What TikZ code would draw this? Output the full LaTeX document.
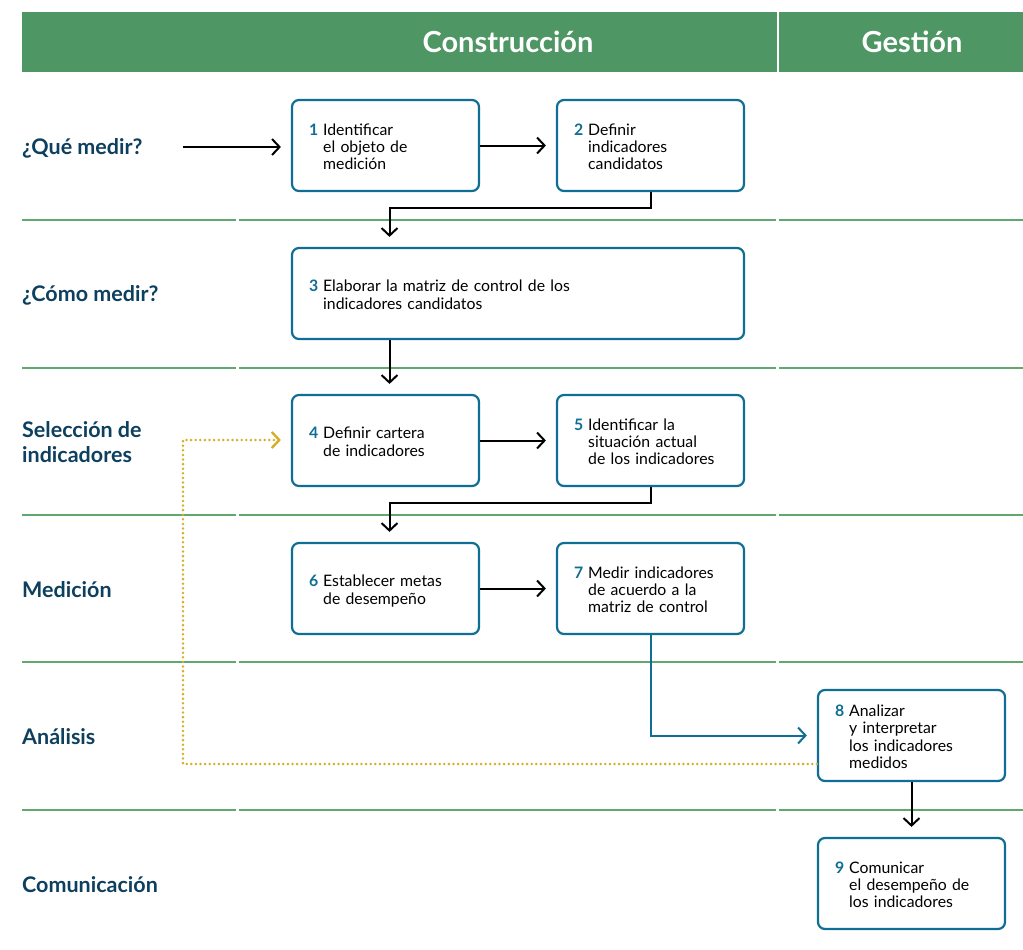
\documentclass[tikz,border=0pt]{standalone}
\usepackage{fontspec}
\setmainfont{Lato}
\usetikzlibrary{arrows.meta,calc}
\definecolor{hdrgreen}{HTML}{4E9664}
\definecolor{sepgreen}{HTML}{5FA870}
\definecolor{boxblue}{HTML}{0F6E93}
\definecolor{lblblue}{HTML}{0D3F5F}
\definecolor{dotyellow}{HTML}{D4B02A}
\newcommand{\nm}[1]{\textcolor{boxblue}{\bfseries #1}}
\tikzset{
  box/.style={draw=boxblue, line width=2.2pt, rounded corners=7pt, fill=white,
    minimum height=91pt, text width=153pt, inner xsep=17pt, inner ysep=0pt,
    align=left, font=\fontsize{15.8}{17.3}\selectfont, text=black},
  widebox/.style={box, text width=418pt},
  rowlbl/.style={anchor=west, align=left, text=lblblue, font=\fontsize{21.5}{25}\selectfont\bfseries, inner sep=0pt},
  hdr/.style={text=white, font=\fontsize{29}{32}\selectfont\bfseries},
  sep/.style={draw=sepgreen, line width=1.8pt},
  conn/.style={line width=2pt, -{Straight Barb[length=7.5pt,width=16pt,line width=2pt]}, shorten >=10pt},
  bconn/.style={conn, draw=boxblue},
  yconn/.style={draw=dotyellow, line width=2.8pt, line cap=round, dash pattern=on 0pt off 4.6pt,
     -{Straight Barb[length=7.5pt,width=16pt,line width=2.4pt]}, shorten >=10pt},
}
\newcommand{\tb}[2]{\raisebox{-3.5pt}[\height][\depth]{\begin{tabular}{@{}l@{\hspace{5pt}}l@{}}\nm{#1} & #2\end{tabular}}}
\begin{document}
\begin{tikzpicture}[x=1pt,y=-1pt]
\path[use as bounding box] (0,0) rectangle (1023,950);
% header
\fill[hdrgreen] (22,12) rectangle (777,72);
\fill[hdrgreen] (779,12) rectangle (1023,72);
\node[hdr] (hc) at (508,42) {Construcción};
\node[hdr] (hg) at (912,42) {Gestión};
% separators
\foreach \yy in {220,368,515,662,810}{
  \draw[sep] (22,\yy) -- (236,\yy);
  \draw[sep] (239,\yy) -- (776,\yy);
  \draw[sep] (779,\yy) -- (1023,\yy);
}
% row labels
\node[rowlbl] (l1) at (22,148) {¿Qué medir?};
\node[rowlbl] (l2) at (22,295) {¿Cómo medir?};
\node[rowlbl] (l3) at (22,442) {Selección de\\indicadores};
\node[rowlbl] (l4) at (22,590) {Medición};
\node[rowlbl] (l5) at (22,737) {Análisis};
\node[rowlbl] (l6) at (22,885) {Comunicación};
% boxes
\node[box] (b1) at (385.5,145.5) {\tb{1}{Identificar\\ & el objeto de\\ & medición}};
\node[box] (b2) at (650.5,145.5) {\tb{2}{Definir\\ & indicadores\\ & candidatos}};
\node[widebox] (b3) at (518,293.5) {\tb{3}{Elaborar la matriz de control de los\\ & indicadores candidatos}};
\node[box] (b4) at (385.5,440.5) {\tb{4}{Definir cartera\\ & de indicadores}};
\node[box] (b5) at (650.5,440.5) {\tb{5}{Identificar la\\ & situación actual\\ & de los indicadores}};
\node[box] (b6) at (385.5,588.5) {\tb{6}{Establecer metas\\ & de desempeño}};
\node[box] (b7) at (650.5,588.5) {\tb{7}{Medir indicadores\\ & de acuerdo a la\\ & matriz de control}};
\node[box] (b8) at (911.5,735.5) {\tb{8}{Analizar\\ & y interpretar\\ & los indicadores\\ & medidos}};
\node[box] (b9) at (911.5,883.5) {\tb{9}{Comunicar\\ & el desempeño de\\ & los indicadores}};
% connectors
\coordinate (qs) at (183,147);
\coordinate (yc) at (183,764);
\draw[conn] (qs) -- (b1.west |- qs);
\draw[conn] (b1.east) -- (b2.west);
\draw[conn] (b2.south) -- ++(0,16) -| ([xshift=4pt]b1.south |- b3.north);
\draw[conn] ([xshift=4pt]b1.south |- b3.south) -- ([xshift=4pt]b4.north);
\draw[conn] (b4.east) -- (b5.west);
\draw[conn] (b5.south) -- ++(0,16) -| ([xshift=4pt]b6.north);
\draw[conn] (b6.east) -- (b7.west);
\draw[bconn] (b7.south) |- (b8.west);
\draw[conn] (b8.south) -- (b9.north);
\draw[yconn] ([yshift=-28.5pt]b8.west) -- (yc) |- ([yshift=0.5pt]b4.west);
\end{tikzpicture}
\end{document}
